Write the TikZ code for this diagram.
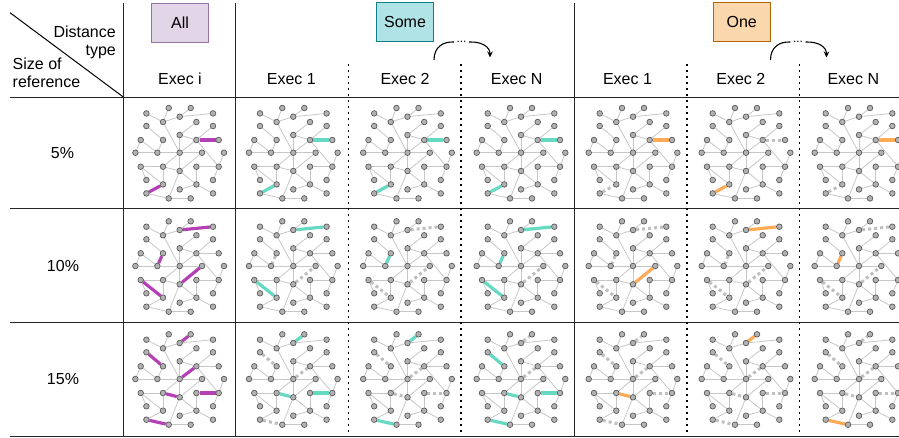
\documentclass[tikz,border=0pt]{standalone}
\usepackage{fontspec}
\setmainfont{Liberation Sans}
\usetikzlibrary{arrows.meta}
\pgfdeclarelayer{bg}
\pgfsetlayers{bg,main}
\definecolor{hlpurple}{HTML}{B540B5}
\definecolor{hlteal}{HTML}{66D9C2}
\definecolor{hlorange}{HTML}{FFAA55}
\definecolor{allfill}{HTML}{E1D5E7}
\definecolor{alldraw}{HTML}{9673A6}
\definecolor{somefill}{HTML}{B0E3E6}
\definecolor{somedraw}{HTML}{0E8088}
\definecolor{onefill}{HTML}{FAD7AC}
\definecolor{onedraw}{HTML}{B46504}
\tikzset{
  gridline/.style={draw=black!85, line width=1pt},
  sepdot/.style={draw=black, line width=1.6pt, dash pattern=on 1.6pt off 4.4pt},
  gn/.style={circle, draw=black!65, fill=black!30, line width=0.7pt, minimum size=5.6pt, inner sep=0pt},
  gedge/.style={draw=black!22, line width=0.8pt},
  hledge/.style={line width=3.2pt},
  rmedge/.style={draw=black!25, line width=3pt, dash pattern=on 3pt off 3pt},
  lbl/.style={font=\fontsize{16}{19}\selectfont, inner sep=0pt},
  hdr/.style={minimum width=56.7pt, minimum height=39pt, line width=1pt, inner sep=0pt, font=\fontsize{16}{19}\selectfont},
  dotsn/.style={font=\fontsize{12}{14}\selectfont, inner sep=2.5pt},
  arr/.style={draw=black, line width=1.1pt},
}
\newcommand{\mkgraph}[3]{%
  \foreach \id/\dx/\dy in {A/-33.3/-39.3, B/-11/-44.7, C/11/-44.7, D/0/-36, E/33.3/-39.3, F/-16.7/-30.7, G/-33.3/-26.7, H/16.7/-30.7, I/33.3/-26.7, J/0/-17.7, K/-39/-12.7, L/-16.7/-12.7, M/16.7/-12.7, N/39/-12.7, O/-44.3/0, P/-22.3/0, Q/0/0, R/22.3/0, S/44.3/0, T/-39/14, U/-16.7/14, V/0/18.3, W/16.7/14, X/39/14, Y/-33.3/27.3, Z/-16.7/31.7, a/16.7/31.7, b/33.3/27.3, c/0/36.7, d/-33.3/40.7, e/33.3/40.7, f/-11/45.7, g/11/45.7}
    {\node[gn] (#1\id) at ({#2+\dx},{#3+\dy}) {};}
  \begin{pgfonlayer}{bg}
  \foreach \u/\v in {A/F, B/F, F/D, D/C, D/E, F/Q, G/L, L/P, K/O, K/P, O/P, P/Q, Q/R, J/Q, J/H, J/M, M/I, M/N, M/X, Q/M, Q/U, Q/V, V/R, T/U, T/Y, T/Z, U/Z, U/V, V/a, V/f, W/a, W/X, a/c, a/e, X/b, S/X, d/f, f/g, d/Z}
    {\draw[gedge] (#1\u) -- (#1\v);}
  \end{pgfonlayer}
}
\newcommand{\hledges}[3]{%
  \begin{pgfonlayer}{bg}
  \foreach \u/\v in {#3} {\draw[hledge, draw=#2] (#1\u) -- (#1\v);}
  \end{pgfonlayer}}
\newcommand{\rmedges}[2]{%
  \begin{pgfonlayer}{bg}
  \foreach \u/\v in {#2} {\draw[white, line width=2pt] (#1\u) -- (#1\v); \draw[rmedge] (#1\u) -- (#1\v);}
  \end{pgfonlayer}}
\begin{document}
\begin{tikzpicture}[x=1pt, y=-1pt]
\useasboundingbox (0,0) rectangle (899,437);
\clip (0,0) rectangle (899,437);
% grid
\coordinate (hl0) at (10,97); \coordinate (hr0) at (899,97);
\coordinate (hl1) at (10,208.7); \coordinate (hr1) at (899,208.7);
\coordinate (hl2) at (10,322.3); \coordinate (hr2) at (899,322.3);
\coordinate (hl3) at (10,436); \coordinate (hr3) at (899,436);
\foreach \i in {0,1,2,3} {\draw[gridline] (hl\i) -- (hr\i);}
\foreach \i/\x in {1/123.3, 2/235.5, 3/574.5} {
  \coordinate (vt\i) at (\x,3); \coordinate (vb\i) at (\x,437);
  \draw[gridline] (vt\i) -- (vb\i);}
\foreach \i/\x in {1/348.3, 2/460.8, 3/686.8, 4/799.5} {
  \coordinate (dt\i) at (\x,64); \coordinate (db\i) at (\x,436);
  \draw[sepdot] (dt\i) -- (db\i);}
\coordinate (diagA) at (10,12.7); \coordinate (diagB) at (123.3,97);
\draw[line width=1pt] (diagA) -- (diagB);
% header texts
\node[lbl, anchor=base east] (tDist) at (116,37.5) {Distance};
\node[lbl, anchor=base east] (tType) at (116,55.5) {type};
\node[lbl, anchor=base west] (tSize) at (12.5,69) {Size of};
\node[lbl, anchor=base west] (tRef) at (12.5,87.5) {reference};
\node[hdr, fill=allfill, draw=alldraw] (hAll) at (180,22.5) {All};
\node[hdr, fill=somefill, draw=somedraw] (hSome) at (405,22.2) {Some};
\node[hdr, fill=onefill, draw=onedraw] (hOne) at (741.7,22.3) {One};
\foreach \n/\x/\t in {e0/180/Exec i, e1/291.3/Exec 1, e2/405/Exec 2, e3/516.7/Exec N, e4/627.5/Exec 1, e5/740.8/Exec 2, e6/853.3/Exec N}
  {\node[lbl, anchor=base] (\n) at (\x,84) {\t};}
% curved arrows
\node[dotsn] (dA) at (461.5,42) {...};
\coordinate (sA) at (434,60); \coordinate (tA) at (490,57.5);
\draw[arr] (sA) .. controls (434,47) and (443,41.5) .. (dA.west);
\draw[arr, -{Stealth[length=6pt,width=5.5pt]}] (dA.east) .. controls (482,41.5) and (490,47) .. (tA);
\node[dotsn] (dB) at (798,42) {...};
\coordinate (sB) at (770.5,60); \coordinate (tB) at (826.5,57.5);
\draw[arr] (sB) .. controls (770.5,47) and (779.5,41.5) .. (dB.west);
\draw[arr, -{Stealth[length=6pt,width=5.5pt]}] (dB.east) .. controls (818.5,41.5) and (826.5,47) .. (tB);
% row labels
\node[lbl] (r1) at (62.5,153) {5\%};
\node[lbl] (r2) at (63,266) {10\%};
\node[lbl] (r3) at (63,379) {15\%};
% graphs
\foreach \c/\cx in {0/179.7, 1/293.3, 2/407.5, 3/521, 4/633, 5/746, 6/859}
  \foreach \r/\cy in {1/152.7, 2/266, 3/379}
    {\mkgraph{g\r\c}{\cx}{\cy}}
% row 1 (5%)
\hledges{g10}{hlpurple}{M/N, d/Z}
\hledges{g11}{hlteal}{M/N, d/Z}
\hledges{g12}{hlteal}{M/N, d/Z}
\hledges{g13}{hlteal}{M/N, d/Z}
\hledges{g14}{hlorange}{M/N} \rmedges{g14}{d/Z}
\hledges{g15}{hlorange}{d/Z} \rmedges{g15}{M/N}
\hledges{g16}{hlorange}{M/N} \rmedges{g16}{d/Z}
% row 2 (10%)
\hledges{g20}{hlpurple}{D/E, L/P, T/Z, V/R}
\hledges{g21}{hlteal}{D/E, T/Z} \rmedges{g21}{L/P, V/R}
\hledges{g22}{hlteal}{L/P} \rmedges{g22}{D/E, T/Z, V/R}
\hledges{g23}{hlteal}{D/E, L/P, T/Z} \rmedges{g23}{V/R}
\hledges{g24}{hlorange}{V/R} \rmedges{g24}{D/E, L/P, T/Z}
\hledges{g25}{hlorange}{D/E} \rmedges{g25}{L/P, T/Z, V/R}
\hledges{g26}{hlorange}{L/P} \rmedges{g26}{D/E, T/Z, V/R}
% row 3 (15%)
\hledges{g30}{hlpurple}{D/C, G/L, Q/M, U/V, W/X, d/f}
\hledges{g31}{hlteal}{D/C, U/V, W/X} \rmedges{g31}{G/L, Q/M, d/f}
\hledges{g32}{hlteal}{D/C, d/f} \rmedges{g32}{G/L, Q/M, U/V, W/X}
\hledges{g33}{hlteal}{G/L, U/V, W/X, d/f} \rmedges{g33}{D/C, Q/M}
\hledges{g34}{hlorange}{U/V} \rmedges{g34}{D/C, G/L, Q/M, W/X, d/f}
\hledges{g35}{hlorange}{D/C} \rmedges{g35}{G/L, Q/M, U/V, W/X, d/f}
\hledges{g36}{hlorange}{d/f} \rmedges{g36}{D/C, G/L, Q/M, U/V, W/X}
\end{tikzpicture}
\end{document}
